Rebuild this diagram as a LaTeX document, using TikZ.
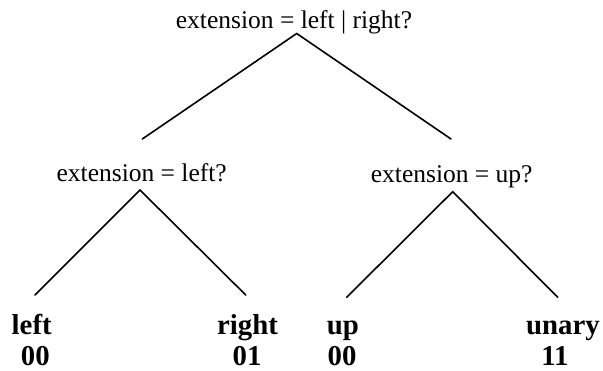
\documentclass[tikz,border=0pt]{standalone}
\usepackage{fontspec}
\setmainfont{Liberation Serif}
\begin{document}
\begin{tikzpicture}[x=1pt,y=-1pt,
  q/.style={font=\fontsize{25.5}{30}\selectfont, inner sep=0pt, anchor=base},
  leaf/.style={font=\fontsize{28.8}{34}\selectfont\bfseries, inner sep=0pt, anchor=base},
  edge/.style={line width=1.6pt, line cap=round}]
\useasboundingbox (0,0) rectangle (603,370);
% questions
\node[q] (root) at (294,28) {extension = left | right?};
\node[q] (ql) at (141.7,181.7) {extension = left?};
\node[q] (qr) at (451.7,182) {extension = up?};
% leaves
\node[leaf] (wl) at (31.7,334) {left};
\node[leaf] (nl) at (35.3,365) {00};
\node[leaf] (wr) at (247.5,334) {right};
\node[leaf] (nr) at (247,365) {01};
\node[leaf] (wu) at (343,334) {up};
\node[leaf] (nu) at (342,365) {00};
\node[leaf] (wy) at (563,334) {unary};
\node[leaf] (ny) at (555,365) {11};
% connector end points
\coordinate (a0) at (296.7,33.5);
\coordinate (a0l) at (142.3,139);
\coordinate (a0r) at (451,139);
\coordinate (a1) at (140,190);
\coordinate (a1l) at (35,295);
\coordinate (a1r) at (245.7,295);
\coordinate (a2) at (452.7,191.7);
\coordinate (a2l) at (346.7,297.3);
\coordinate (a2r) at (557.7,297.3);
\draw[edge] (a0l) -- (a0) -- (a0r);
\draw[edge] (a1l) -- (a1) -- (a1r);
\draw[edge] (a2l) -- (a2) -- (a2r);
\end{tikzpicture}
\end{document}
